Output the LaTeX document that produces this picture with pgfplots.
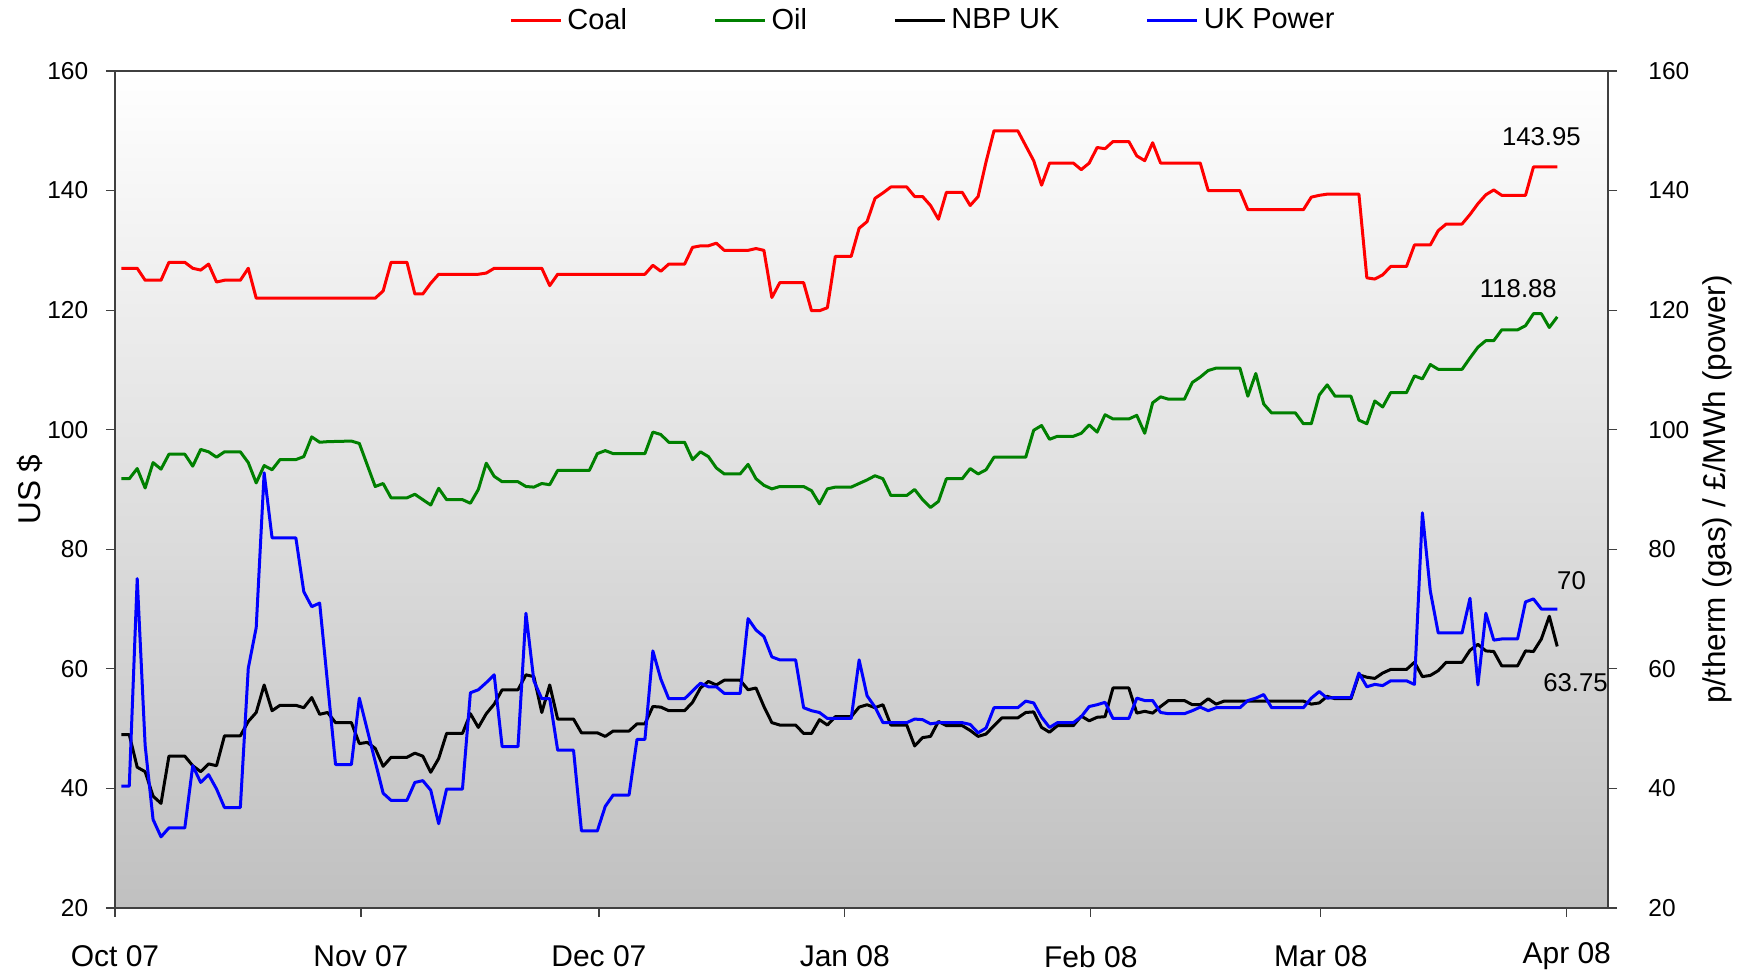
\documentclass[border=0pt]{standalone}
\usepackage{fontspec}
\setmainfont{Liberation Sans}
\usepackage{pgfplots}
\pgfplotsset{compat=1.18}
\definecolor{bgbot}{RGB}{192,192,192}
\definecolor{oilgreen}{RGB}{0,128,0}
\begin{document}
\begin{tikzpicture}
\useasboundingbox (-46pt,-26.8pt) rectangle (648.8pt,363.2pt);
\begin{axis}[
  at={(0,0)}, anchor=south west,
  scale only axis, width=597.2pt, height=334.8pt,
  xmin=-0.8, xmax=187.4, ymin=20, ymax=160,
  axis background/.style={shade, top color=white, bottom color=bgbot},
  axis line style={black!75, line width=0.5pt},
  every tick/.style={black!75, line width=0.5pt},
  tick align=outside, major tick length=3.6pt,
  xtick pos=bottom, ytick pos=left,
  xtick={-0.8,30.2,60.2,91.2,122.2,151.2,182.2},
  xticklabels={Oct 07,Nov 07,Dec 07,Jan 08,Feb 08,Mar 08,Apr 08},
  ytick={20,40,...,160},
  /pgf/number format/assume math mode=true,
  xticklabel style={font=\fontsize{12}{14}\selectfont, anchor=center, yshift=-15.8pt},
  yticklabel style={font=\fontsize{9.8}{11}\selectfont, xshift=-3.6pt},
  every axis y label/.style={at={(axis description cs:-0.057,0.5)}, rotate=90, anchor=center, font=\fontsize{12.6}{15}\selectfont},
  ylabel={US \$},
  legend style={at={(0.2588,1.06)}, anchor=west, draw=none, fill=none,
    legend columns=4, font=\fontsize{11.6}{14}\selectfont,
    /tikz/every even column/.append style={column sep=32.6pt}},
  legend image code/.code={\draw[#1] (0pt,0pt) -- (20pt,0pt);},
  every axis plot/.append style={line width=1.2pt, line join=round, mark=none},
]
\addplot[red] coordinates {
(0,127)(2,127)(3,125)(5,125)(6,128)(8,128)(9,127)(10,126.7)(11,127.7)(12,124.7)(13,125)(15,125)(16,127)(17,122)(32,122)(33,123.2)(34,128)(36,128)(37,122.7)(38,122.7)(39,124.5)(40,126)(45,126)(46,126.2)(47,127)(53,127)(54,124.1)(55,126)(66,126)(67,127.5)(68,126.5)(69,127.7)(71,127.7)(72,130.5)(73,130.75)(74,130.75)(75,131.2)(76,130)(79,130)(80,130.3)(81,130)(82,122.1)(83,124.6)(86,124.6)(87,119.9)(88,119.9)(89,120.4)(90,129)(92,129)(93,133.7)(94,134.8)(95,138.7)(96,139.6)(97,140.6)(99,140.6)(100,139)(101,139)(102,137.5)(103,135.2)(104,139.7)(106,139.7)(107,137.5)(108,139)(109,144.8)(110,150)(113,150)(114,147.5)(115,145)(116,140.9)(117,144.6)(120,144.6)(121,143.5)(122,144.6)(123,147.2)(124,147)(125,148.2)(127,148.2)(128,145.8)(129,145)(130,148)(131,144.6)(136,144.6)(137,140)(141,140)(142,136.8)(149,136.8)(150,138.9)(151,139.2)(152,139.4)(156,139.4)(157,125.4)(158,125.2)(159,125.9)(160,127.3)(162,127.3)(163,130.9)(165,130.9)(166,133.3)(167,134.4)(169,134.4)(170,136)(171,137.8)(172,139.3)(173,140.1)(174,139.2)(177,139.2)(178,143.95)(181,143.95)
};
\addplot[oilgreen] coordinates {
(0,91.8)(1,91.8)(2,93.5)(3,90.25)(4,94.5)(5,93.4)(6,95.9)(8,95.9)(9,93.9)(10,96.7)(11,96.3)(12,95.4)(13,96.3)(15,96.3)(16,94.5)(17,91.1)(18,94)(19,93.3)(20,95)(22,95)(23,95.5)(24,98.8)(25,97.9)(26,98)(29,98.1)(30,97.7)(32,90.5)(33,91)(34,88.6)(36,88.6)(37,89.2)(38,88.3)(39,87.4)(40,90.2)(41,88.3)(43,88.3)(44,87.7)(45,90)(46,94.4)(47,92.2)(48,91.3)(50,91.3)(51,90.5)(52,90.4)(53,91)(54,90.8)(55,93.2)(59,93.2)(60,96)(61,96.5)(62,96)(66,96)(67,99.6)(68,99.2)(69,97.9)(71,97.9)(72,95)(73,96.3)(74,95.5)(75,93.6)(76,92.6)(78,92.6)(79,94.2)(80,91.8)(81,90.7)(82,90.1)(83,90.5)(86,90.5)(87,89.8)(88,87.6)(89,90.1)(90,90.4)(92,90.4)(93,91)(94,91.6)(95,92.3)(96,91.8)(97,89)(99,89)(100,90)(101,88.3)(102,87)(103,88)(104,91.8)(106,91.8)(107,93.5)(108,92.6)(109,93.3)(110,95.4)(114,95.4)(115,99.9)(116,100.7)(117,98.4)(118,98.9)(120,98.9)(121,99.4)(122,100.8)(123,99.6)(124,102.5)(125,101.8)(127,101.8)(128,102.4)(129,99.4)(130,104.5)(131,105.5)(132,105.1)(134,105.1)(135,107.9)(136,108.8)(137,109.9)(138,110.3)(141,110.3)(142,105.6)(143,109.4)(144,104.3)(145,102.8)(148,102.8)(149,101)(150,101)(151,105.8)(152,107.5)(153,105.6)(155,105.6)(156,101.6)(157,101)(158,104.8)(159,103.8)(160,106.2)(162,106.2)(163,109)(164,108.5)(165,110.9)(166,110.1)(169,110.1)(170,112)(171,113.8)(172,114.9)(173,114.9)(174,116.7)(176,116.7)(177,117.4)(178,119.4)(179,119.4)(180,117.1)(181,118.88)
};
\addplot[black] coordinates {
(0,49)(1,49)(2,43.55)(3,42.8)(4,38.7)(5,37.5)(6,45.4)(8,45.4)(9,43.8)(10,42.8)(11,44.1)(12,43.8)(13,48.8)(15,48.8)(16,51.2)(17,52.7)(18,57.3)(19,53)(20,53.9)(22,53.9)(23,53.5)(24,55.2)(25,52.4)(26,52.7)(27,51)(29,51)(30,47.5)(31,47.7)(32,46.7)(33,43.7)(34,45.2)(36,45.2)(37,45.9)(38,45.4)(39,42.7)(40,45)(41,49.2)(43,49.2)(44,52.5)(45,50.2)(46,52.5)(47,54.1)(48,56.5)(50,56.5)(51,59)(52,58.7)(53,52.7)(54,57.3)(55,51.6)(57,51.6)(58,49.3)(60,49.3)(61,48.7)(62,49.6)(64,49.6)(65,50.8)(66,50.8)(67,53.7)(68,53.6)(69,53)(71,53)(72,54.4)(73,56.8)(74,57.9)(75,57.3)(76,58.1)(78,58.1)(79,56.5)(80,56.8)(81,53.7)(82,51)(83,50.6)(85,50.6)(86,49.2)(87,49.2)(88,51.5)(89,50.6)(90,52)(92,52)(93,53.6)(94,54)(95,53.5)(96,54)(97,50.6)(99,50.6)(100,47.1)(101,48.5)(102,48.7)(103,51.2)(104,50.5)(106,50.5)(107,49.7)(108,48.7)(109,49.1)(110,50.5)(111,51.8)(113,51.8)(114,52.7)(115,52.8)(116,50.2)(117,49.4)(118,50.5)(120,50.5)(121,52.1)(122,51.3)(123,51.9)(124,52)(125,56.8)(127,56.8)(128,52.6)(129,52.9)(130,52.6)(131,53.7)(132,54.7)(134,54.7)(135,54)(136,54)(137,55)(138,54.1)(139,54.6)(149,54.6)(150,54.1)(151,54.3)(152,55.4)(153,55)(155,55)(156,59)(157,58.6)(158,58.4)(159,59.3)(160,59.9)(162,59.9)(163,61.1)(164,58.7)(165,58.9)(166,59.7)(167,61.1)(169,61.1)(170,63.1)(171,64.1)(172,63)(173,62.9)(174,60.5)(176,60.5)(177,63)(178,62.9)(179,65)(180,68.8)(181,63.75)
};
\addplot[blue] coordinates {
(0,40.4)(1,40.4)(2,75.1)(3,47.2)(4,34.8)(5,31.9)(6,33.4)(8,33.4)(9,43.8)(10,41)(11,42.3)(12,39.9)(13,36.8)(15,36.8)(16,60.1)(17,66.9)(18,92.8)(19,81.9)(22,81.9)(23,72.9)(24,70.4)(25,71)(27,44)(29,44)(30,55.1)(33,39.2)(34,38)(36,38)(37,41)(38,41.3)(39,39.7)(40,34.1)(41,39.9)(43,39.9)(44,56)(45,56.5)(46,57.7)(47,59)(48,47)(50,47)(51,69.3)(52,58)(53,55)(54,55)(55,46.4)(57,46.4)(58,32.9)(60,32.9)(61,37)(62,38.9)(64,38.9)(65,48.2)(66,48.2)(67,63)(68,58.3)(69,55)(71,55)(72,56.3)(73,57.6)(74,57)(75,57)(76,55.9)(78,55.9)(79,68.4)(80,66.5)(81,65.4)(82,62)(83,61.5)(85,61.5)(86,53.5)(87,53)(88,52.7)(89,51.7)(92,51.7)(93,61.5)(94,55.5)(95,53.6)(96,51)(99,51)(100,51.6)(101,51.5)(102,50.8)(103,51)(106,51)(107,50.7)(108,49.3)(109,50.1)(110,53.5)(113,53.5)(114,54.6)(115,54.3)(116,51.9)(117,50.2)(118,51)(120,51)(121,52)(122,53.7)(123,54)(124,54.4)(125,51.7)(127,51.7)(128,55.1)(129,54.7)(130,54.7)(131,52.7)(132,52.5)(134,52.5)(135,53)(136,53.6)(137,53)(138,53.5)(141,53.5)(142,54.7)(143,55.1)(144,55.7)(145,53.5)(149,53.5)(150,55.1)(151,56.2)(152,55.1)(153,55.2)(155,55.2)(156,59.3)(157,57)(158,57.4)(159,57.2)(160,58)(162,58)(163,57.4)(164,86.1)(165,73)(166,66)(169,66)(170,71.8)(171,57.3)(172,69.3)(173,64.8)(174,65)(176,65)(177,71.2)(178,71.7)(179,70)(181,70)
};
\legend{Coal,Oil,NBP UK,UK Power}
\node[font=\fontsize{10.3}{12}\selectfont] at (axis cs:179.0,149.1) {143.95};
\node[font=\fontsize{10.3}{12}\selectfont] at (axis cs:176.1,123.6) {118.88};
\node[font=\fontsize{10.3}{12}\selectfont] at (axis cs:182.8,74.7) {70};
\node[font=\fontsize{10.3}{12}\selectfont] at (axis cs:183.3,57.7) {63.75};
\end{axis}
\begin{axis}[
  at={(0,0)}, anchor=south west,
  scale only axis, width=597.2pt, height=334.8pt,
  xmin=-0.8, xmax=187.4, ymin=20, ymax=160,
  axis x line=none, axis y line*=right,
  axis line style={black!75, line width=0.5pt},
  every tick/.style={black!75, line width=0.5pt},
  tick align=outside, major tick length=3.6pt,
  ytick={20,40,...,160},
  /pgf/number format/assume math mode=true,
  yticklabel style={font=\fontsize{9.8}{11}\selectfont, xshift=9pt},
  every axis y label/.style={at={(axis description cs:1.073,0.5)}, rotate=90, anchor=center, font=\fontsize{12.6}{15}\selectfont},
  ylabel={p/therm (gas) / £/MWh (power)},
]
\end{axis}
\end{tikzpicture}
\end{document}
